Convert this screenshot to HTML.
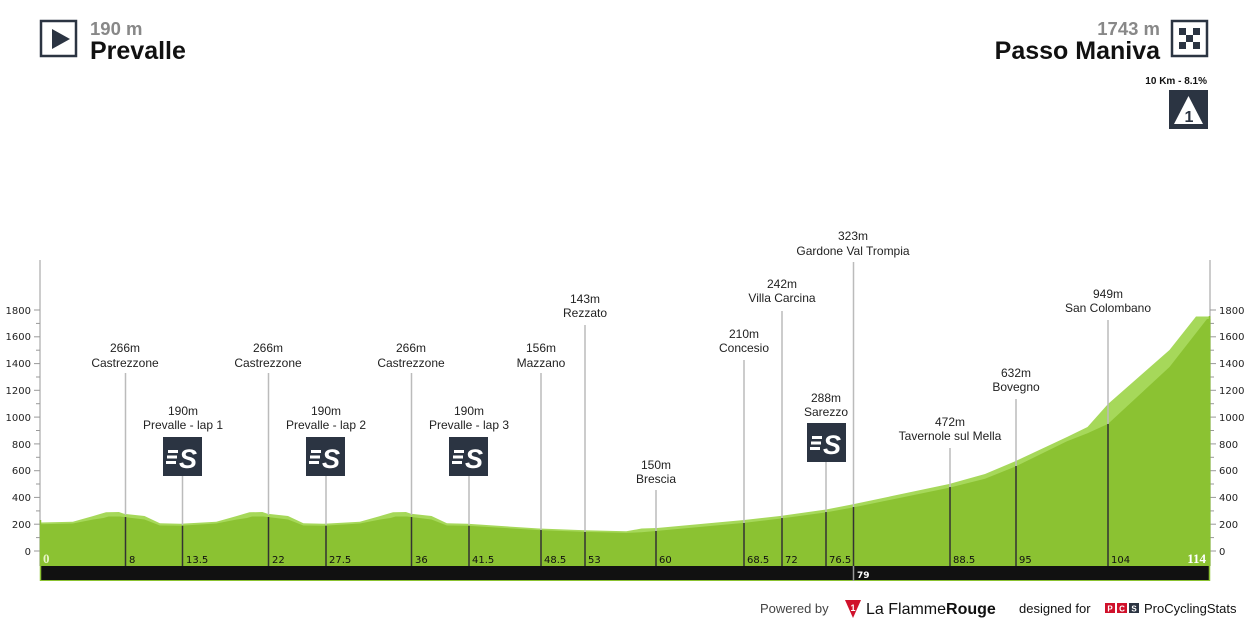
<!DOCTYPE html>
<html><head><meta charset="utf-8"><style>
html,body{margin:0;padding:0;background:#fff;}
svg{display:block;font-family:"Liberation Sans",Arial,sans-serif;}
.lab{font-size:12px;fill:#222;text-anchor:middle;}
.ax{font-size:10px;fill:#222;font-family:"DejaVu Sans",Verdana,sans-serif;}
.km{font-size:10px;fill:#111;font-family:"DejaVu Sans",Verdana,sans-serif;}
</style></head><body>
<svg width="1250" height="625" viewBox="0 0 1250 625" xmlns="http://www.w3.org/2000/svg">
<defs>
<g id="spr">
<rect x="0" y="0" width="39" height="39" fill="#2b3442"/>
<rect x="5" y="13" width="10" height="3" fill="#fff"/>
<rect x="4" y="18.5" width="10" height="3" fill="#fff"/>
<rect x="3" y="24" width="10" height="3" fill="#fff"/>
<text x="25" y="31" font-size="27" font-weight="bold" font-style="italic" fill="#fff" text-anchor="middle" font-family="Liberation Sans,sans-serif">S</text>
</g>
</defs>

<!-- header left -->
<rect x="41" y="21" width="35" height="35" fill="#fff" stroke="#2b3442" stroke-width="2.5"/>
<polygon points="52,29 52,49 70,39" fill="#2b3442"/>
<text x="90" y="35" font-size="18.5" font-weight="bold" fill="#888">190 m</text>
<text x="90" y="59" font-size="25" font-weight="bold" fill="#111">Prevalle</text>
<!-- header right -->
<text x="1160" y="35" font-size="18.5" font-weight="bold" fill="#888" text-anchor="end">1743 m</text>
<text x="1160" y="59" font-size="25" font-weight="bold" fill="#111" text-anchor="end">Passo Maniva</text>
<rect x="1172" y="21" width="35" height="35" fill="#fff" stroke="#2b3442" stroke-width="2.5"/>
<g fill="#2b3442">
<rect x="1179" y="28" width="7" height="7"/><rect x="1193" y="28" width="7" height="7"/>
<rect x="1186" y="35" width="7" height="7"/>
<rect x="1179" y="42" width="7" height="7"/><rect x="1193" y="42" width="7" height="7"/>
</g>
<text x="1207" y="84" font-size="10" font-weight="bold" fill="#111" text-anchor="end">10 Km - 8.1%</text>
<rect x="1169" y="90" width="39" height="39" fill="#2b3442"/>
<polygon points="1188.5,96 1203,124 1174,124" fill="#fff"/>
<text x="1189" y="122" font-size="16" font-weight="bold" fill="#2b3442" text-anchor="middle">1</text>

<!-- axes -->
<line x1="40" y1="260" x2="40" y2="566" stroke="#bbb" stroke-width="1.5"/>
<line x1="1210" y1="260" x2="1210" y2="566" stroke="#bbb" stroke-width="1.5"/>
<g stroke="#999" stroke-width="1">
<line x1="34" y1="551" x2="40" y2="551"/><line x1="36" y1="537.6" x2="40" y2="537.6"/>
<line x1="34" y1="524.2" x2="40" y2="524.2"/><line x1="36" y1="510.9" x2="40" y2="510.9"/>
<line x1="34" y1="497.4" x2="40" y2="497.4"/><line x1="36" y1="484" x2="40" y2="484"/>
<line x1="34" y1="470.7" x2="40" y2="470.7"/><line x1="36" y1="457.3" x2="40" y2="457.3"/>
<line x1="34" y1="443.9" x2="40" y2="443.9"/><line x1="36" y1="430.5" x2="40" y2="430.5"/>
<line x1="34" y1="417.1" x2="40" y2="417.1"/><line x1="36" y1="403.7" x2="40" y2="403.7"/>
<line x1="34" y1="390.3" x2="40" y2="390.3"/><line x1="36" y1="377" x2="40" y2="377"/>
<line x1="34" y1="363.6" x2="40" y2="363.6"/><line x1="36" y1="350.2" x2="40" y2="350.2"/>
<line x1="34" y1="336.8" x2="40" y2="336.8"/><line x1="36" y1="323.4" x2="40" y2="323.4"/>
<line x1="34" y1="310" x2="40" y2="310"/>
<line x1="1210" y1="551" x2="1216" y2="551"/><line x1="1210" y1="537.6" x2="1214" y2="537.6"/>
<line x1="1210" y1="524.2" x2="1216" y2="524.2"/><line x1="1210" y1="510.9" x2="1214" y2="510.9"/>
<line x1="1210" y1="497.4" x2="1216" y2="497.4"/><line x1="1210" y1="484" x2="1214" y2="484"/>
<line x1="1210" y1="470.7" x2="1216" y2="470.7"/><line x1="1210" y1="457.3" x2="1214" y2="457.3"/>
<line x1="1210" y1="443.9" x2="1216" y2="443.9"/><line x1="1210" y1="430.5" x2="1214" y2="430.5"/>
<line x1="1210" y1="417.1" x2="1216" y2="417.1"/><line x1="1210" y1="403.7" x2="1214" y2="403.7"/>
<line x1="1210" y1="390.3" x2="1216" y2="390.3"/><line x1="1210" y1="377" x2="1214" y2="377"/>
<line x1="1210" y1="363.6" x2="1216" y2="363.6"/><line x1="1210" y1="350.2" x2="1214" y2="350.2"/>
<line x1="1210" y1="336.8" x2="1216" y2="336.8"/><line x1="1210" y1="323.4" x2="1214" y2="323.4"/>
<line x1="1210" y1="310" x2="1216" y2="310"/>
</g>
<g class="ax" text-anchor="end">
<text x="31" y="555">0</text><text x="31" y="528">200</text><text x="31" y="501">400</text>
<text x="31" y="474">600</text><text x="31" y="448">800</text><text x="31" y="421">1000</text>
<text x="31" y="394">1200</text><text x="31" y="367">1400</text><text x="31" y="340">1600</text>
<text x="31" y="314">1800</text>
</g>
<g class="ax">
<text x="1219" y="555">0</text><text x="1219" y="528">200</text><text x="1219" y="501">400</text>
<text x="1219" y="474">600</text><text x="1219" y="448">800</text><text x="1219" y="421">1000</text>
<text x="1219" y="394">1200</text><text x="1219" y="367">1400</text><text x="1219" y="340">1600</text>
<text x="1219" y="314">1800</text>
</g>

<!-- profile light -->
<polygon fill="#a6d85a" points="40,566 40,522.5 72.8,521.8 93.3,516 100,514 106,512.3 118.9,512 124,513.8 144.5,516 159.9,523.2 180.4,523.8 216.3,521.8 236.8,516 243.5,514 249.5,512.3 262.4,512 267.5,513.8 288,516 303.4,523.2 323.9,523.8 359.8,521.8 380.3,516 387,514 393,512.3 405.9,512 411,513.8 431.5,516 446.9,523.2 467.4,523.8 539.1,528.5 585.3,530.3 626.3,531.3 641.6,528.5 657,528 744.1,520 780,516 826.1,509.5 851.8,504.5 949.1,484 985,474 1015.8,461 1067,437 1087.5,427 1108,404 1169.5,350 1196,316.5 1210.5,316.5 1210.5,566"/>
<!-- profile dark -->
<polygon fill="#8bc232" points="40,566 40,524.2 72.8,523.5 93.3,519.5 103.5,518 108.6,516.5 120,516.5 124,517 144.5,519.5 159.9,525.5 180.4,525.8 216.3,523.5 236.8,519.5 247,518 252.1,516.5 263.5,516.5 267.5,517 288,519.5 303.4,525.5 323.9,525.8 359.8,523.5 380.3,519.5 390.5,518 395.6,516.5 407,516.5 411,517 431.5,519.5 446.9,525.5 467.4,525.8 539.1,530.1 585.3,531.9 626.3,532.9 641.6,532.3 657,530.9 744.1,522.9 780,518.6 826.1,512.4 851.8,507.7 949.1,487.8 985,478.7 1015.8,466.4 1067,441.2 1087.5,433.2 1108,423.9 1169.5,367 1207,319 1210.5,319 1210.5,566"/>
<!-- bottom bar -->
<rect x="40" y="566" width="1170" height="14" fill="#111"/>
<line x1="40" y1="580.5" x2="1210" y2="580.5" stroke="#8bc232" stroke-width="1"/>
<line x1="40.5" y1="520" x2="40.5" y2="581" stroke="#8bc232" stroke-width="1.5"/>
<line x1="1209.5" y1="316" x2="1209.5" y2="581" stroke="#8bc232" stroke-width="1.5"/>

<!-- marker lines: gray top part -->
<g stroke="#bbb" stroke-width="1.5">
<line x1="125.5" y1="373" x2="125.5" y2="515"/>
<line x1="182.5" y1="476" x2="182.5" y2="525"/>
<line x1="268.5" y1="373" x2="268.5" y2="515"/>
<line x1="326" y1="476" x2="326" y2="525"/>
<line x1="411.5" y1="373" x2="411.5" y2="515"/>
<line x1="469" y1="476" x2="469" y2="525"/>
<line x1="541" y1="373" x2="541" y2="530"/>
<line x1="585" y1="325" x2="585" y2="532"/>
<line x1="656" y1="490" x2="656" y2="531"/>
<line x1="744" y1="360" x2="744" y2="523"/>
<line x1="782" y1="311" x2="782" y2="518"/>
<line x1="826" y1="462" x2="826" y2="512"/>
<line x1="853.5" y1="262" x2="853.5" y2="507"/>
<line x1="950" y1="448" x2="950" y2="487"/>
<line x1="1016" y1="399" x2="1016" y2="466"/>
<line x1="1108" y1="320" x2="1108" y2="424"/>
</g>
<g stroke="#333" stroke-width="1.5">
<line x1="125.5" y1="517" x2="125.5" y2="566"/>
<line x1="182.5" y1="525.8" x2="182.5" y2="566"/>
<line x1="268.5" y1="517" x2="268.5" y2="566"/>
<line x1="326" y1="525.8" x2="326" y2="566"/>
<line x1="411.5" y1="517" x2="411.5" y2="566"/>
<line x1="469" y1="525.8" x2="469" y2="566"/>
<line x1="541" y1="530" x2="541" y2="566"/>
<line x1="585" y1="532" x2="585" y2="566"/>
<line x1="656" y1="531" x2="656" y2="566"/>
<line x1="744" y1="523" x2="744" y2="566"/>
<line x1="782" y1="518" x2="782" y2="566"/>
<line x1="826" y1="512" x2="826" y2="566"/>
<line x1="853.5" y1="507" x2="853.5" y2="566"/>
<line x1="950" y1="487" x2="950" y2="566"/>
<line x1="1016" y1="466" x2="1016" y2="566"/>
<line x1="1108" y1="424" x2="1108" y2="566"/>
</g>
<line x1="853.5" y1="566" x2="853.5" y2="581" stroke="#999" stroke-width="1.5"/>

<!-- km labels -->
<g class="km">
<text x="43" y="563" font-weight="bold" fill="#e8f5c8" font-family="Liberation Serif,serif" font-size="13">0</text>
<text x="129" y="563">8</text><text x="186" y="563">13.5</text>
<text x="272" y="563">22</text><text x="329" y="563">27.5</text>
<text x="415" y="563">36</text><text x="472" y="563">41.5</text>
<text x="544" y="563">48.5</text><text x="588" y="563">53</text>
<text x="659" y="563">60</text><text x="747" y="563">68.5</text>
<text x="785" y="563">72</text><text x="829" y="563">76.5</text>
<text x="953" y="563">88.5</text><text x="1019" y="563">95</text>
<text x="1111" y="563">104</text>
<text x="1206" y="563" text-anchor="end" font-weight="bold" fill="#fff" font-family="Liberation Serif,serif" font-size="13">114</text>
<text x="857" y="578" fill="#fff" font-weight="bold" font-size="9">79</text>
</g>

<!-- labels -->
<g class="lab">
<text x="125" y="352">266m</text><text x="125" y="367">Castrezzone</text>
<text x="268" y="352">266m</text><text x="268" y="367">Castrezzone</text>
<text x="411" y="352">266m</text><text x="411" y="367">Castrezzone</text>
<text x="183" y="415">190m</text><text x="183" y="429">Prevalle - lap 1</text>
<text x="326" y="415">190m</text><text x="326" y="429">Prevalle - lap 2</text>
<text x="469" y="415">190m</text><text x="469" y="429">Prevalle - lap 3</text>
<text x="541" y="352">156m</text><text x="541" y="367">Mazzano</text>
<text x="585" y="303">143m</text><text x="585" y="317">Rezzato</text>
<text x="656" y="469">150m</text><text x="656" y="483">Brescia</text>
<text x="744" y="338">210m</text><text x="744" y="352">Concesio</text>
<text x="782" y="288">242m</text><text x="782" y="302">Villa Carcina</text>
<text x="826" y="402">288m</text><text x="826" y="416">Sarezzo</text>
<text x="853" y="240">323m</text><text x="853" y="255">Gardone Val Trompia</text>
<text x="950" y="426">472m</text><text x="950" y="440">Tavernole sul Mella</text>
<text x="1016" y="377">632m</text><text x="1016" y="391">Bovegno</text>
<text x="1108" y="298">949m</text><text x="1108" y="312">San Colombano</text>
</g>
<use href="#spr" x="163" y="437"/>
<use href="#spr" x="306" y="437"/>
<use href="#spr" x="449" y="437"/>
<use href="#spr" x="807" y="423"/>

<!-- footer -->
<text x="760" y="613" font-size="13" fill="#444">Powered by</text>
<polygon points="845,600 861,600 853,618" fill="#d0112b"/>
<text x="853" y="611" font-size="9" fill="#fff" font-weight="bold" text-anchor="middle">1</text>
<text x="866" y="614" font-size="16" fill="#111">La Flamme<tspan font-weight="bold">Rouge</tspan></text>
<text x="1019" y="613" font-size="13" fill="#111">designed for</text>
<rect x="1105" y="603" width="10" height="10" fill="#d0112b"/><text x="1110" y="611.5" font-size="8" fill="#fff" text-anchor="middle" font-weight="bold">P</text>
<rect x="1117" y="603" width="10" height="10" fill="#d0112b"/><text x="1122" y="611.5" font-size="8" fill="#fff" text-anchor="middle" font-weight="bold">C</text>
<rect x="1129" y="603" width="10" height="10" fill="#2b3442"/><text x="1134" y="611.5" font-size="8" fill="#fff" text-anchor="middle" font-weight="bold">S</text>
<text x="1144" y="613" font-size="13" fill="#111">ProCyclingStats</text>
</svg>
</body></html>
